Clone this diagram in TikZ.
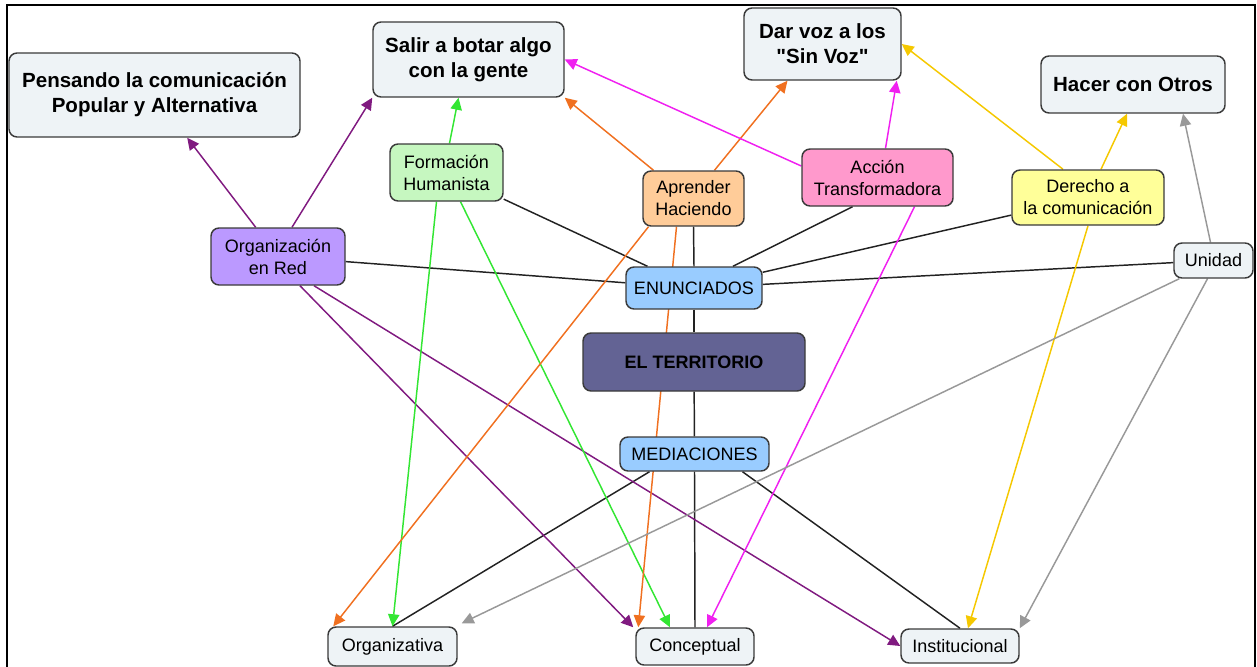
\documentclass[tikz,border=0pt]{standalone}
\usepackage{fontspec}
\setmainfont{Liberation Sans}
\newfontfamily\plainq{Liberation Sans}
\usetikzlibrary{arrows.meta,calc,backgrounds}
\definecolor{boxline}{HTML}{3A3A3A}
\definecolor{lightfill}{HTML}{EEF3F6}
\definecolor{greenfill}{HTML}{C6F7C0}
\definecolor{peachfill}{HTML}{FFCC99}
\definecolor{pinkfill}{HTML}{FF99CC}
\definecolor{yellowfill}{HTML}{FFFF99}
\definecolor{lavfill}{HTML}{BB99FF}
\definecolor{bluefill}{HTML}{99CCFF}
\definecolor{terrfill}{HTML}{636394}
\definecolor{cpurple}{HTML}{801A80}
\definecolor{cgreen}{HTML}{33E633}
\definecolor{corange}{HTML}{F07020}
\definecolor{cmagenta}{HTML}{F020F0}
\definecolor{cyellow}{HTML}{F5C800}
\definecolor{cgray}{HTML}{999999}
\definecolor{cblack}{HTML}{222222}
\tikzset{
  sz/.style 2 args={minimum width=#1*0.75pt, minimum height=#2*0.75pt},
  basebox/.style={draw=boxline, line width=1.1pt, rounded corners=6pt, inner sep=0pt, align=center, text=black},
  normaltext/.style={font=\fontsize{13.5pt}{16.5pt}\selectfont},
  boldtext/.style={font=\fontsize{15.4pt}{18.75pt}\selectfont\bfseries},
  lbox/.style={basebox, normaltext, fill=lightfill},
  bigbox/.style={basebox, boldtext, fill=lightfill},
  gbox/.style={basebox, normaltext, fill=greenfill},
  pbox/.style={basebox, normaltext, fill=peachfill},
  kbox/.style={basebox, normaltext, fill=pinkfill},
  ybox/.style={basebox, normaltext, fill=yellowfill},
  vbox/.style={basebox, normaltext, fill=lavfill},
  bbox/.style={basebox, normaltext, fill=bluefill},
  tbox/.style={basebox, font=\fontsize{13.5pt}{16.5pt}\selectfont\bfseries, fill=terrfill},
  conn/.style={line width=1.1pt},
  bl/.style={conn, draw=cblack},
  arr/.style={conn, -{Triangle[length=9pt,width=8.5pt]}},
  pu/.style={arr, draw=cpurple, fill=cpurple},
  gr/.style={arr, draw=cgreen, fill=cgreen},
  orr/.style={arr, draw=corange, fill=corange},
  mg/.style={arr, draw=cmagenta, fill=cmagenta},
  ye/.style={arr, draw=cyellow, fill=cyellow},
  gy/.style={arr, draw=cgray, fill=cgray},
}
\begin{document}
\begin{tikzpicture}[x=0.75pt,y=-0.75pt]
\useasboundingbox (0,0) rectangle (1257,667);
\draw[line width=1.6pt] (7,667) -- (7,5) -- (1255,5) -- (1255,667);

\node[bigbox, sz={291}{84}] (pens) at (154.5,95) {Pensando la comunicación\\Popular y Alternativa};
\node[bigbox, sz={191}{75}] (salir) at (468.5,59.5) {Salir a botar algo\\con la gente};
\node[bigbox, sz={157}{72}] (dar) at (822.5,44) {Dar voz a los\\{\plainq"}Sin Voz{\plainq"}};
\node[bigbox, sz={184}{57}] (hacer) at (1133,84.5) {Hacer con Otros};
\node[gbox, sz={113}{57}] (form) at (446.5,172.5) {Formación\\Humanista};
\node[pbox, sz={101}{55}] (apr) at (693.5,198.5) {Aprender\\Haciendo};
\node[kbox, sz={151}{57}] (acc) at (877.5,177.5) {Acción\\Transformadora};
\node[ybox, sz={152}{55}] (der) at (1088,197.5) {Derecho a\\la comunicación};
\node[vbox, sz={134}{57}] (org) at (278,256.5) {Organización\\en Red};
\node[bbox, sz={136}{42}] (enun) at (694,288) {ENUNCIADOS};
\node[tbox, sz={222}{58}] (terr) at (694,362) {EL TERRITORIO};
\node[bbox, sz={149}{34}] (med) at (694.5,454) {MEDIACIONES};
\node[lbox, sz={79}{35}] (unid) at (1213.5,260.5) {Unidad};
\node[lbox, sz={129}{39}] (orgz) at (392.5,646.5) {Organizativa};
\node[lbox, sz={118}{37}] (conc) at (695,646.5) {Conceptual};
\node[lbox, sz={118}{34}] (inst) at (960,646) {Institucional};

\begin{scope}[on background layer]
% black links
\draw[bl] (form) -- (enun);
\draw[bl] (apr.south) -- (enun.north);
\draw[bl] ($(acc.south)+(-25,0)$) -- ($(enun.north)+(39,0)$);
\draw[bl] (der) -- (enun);
\draw[bl] (org) -- (enun);
\draw[bl] (unid) -- (enun);
\draw[bl] (enun) -- (terr);
\draw[bl] (terr) -- (med);
\draw[bl] ($(med.south)+(-45,0)$) -- (orgz.north);
\draw[bl] (med.south) -- (conc.north);
\draw[bl] ($(med.south)+(48,0)$) -- (inst.north);
% purple
\draw[pu] (org) -- (pens);
\draw[pu] ($(org.north)+(14,0)$) -- (salir.south west);
\draw[pu] ($(org.south)+(22,0)$) -- ($(conc.north west)+(-2,0)$);
\draw[pu] ($(org.south)+(36,0)$) -- (inst.west);
% green
\draw[gr] ($(form.north)+(3,0)$) -- ($(salir.south)+(-10,0)$);
\draw[gr] ($(form.south)+(-10,0)$) -- (orgz.north);
\draw[gr] ($(form.south)+(14,0)$) -- ($(conc.north)+(-25,0)$);
% orange
\draw[orr] ($(apr.north)+(-40,0)$) -- (salir.south east);
\draw[orr] ($(apr.north)+(21,0)$) -- ($(dar.south)+(-35,0)$);
\draw[orr] ($(apr.south)+(-45,0)$) -- ($(orgz.north west)+(6,0)$);
\draw[orr] ($(apr.south)+(-17,0)$) -- ($(conc.north west)+(3,0)$);
% magenta
\draw[mg] ($(acc.west)+(0,-11.5)$) -- (salir.east);
\draw[mg] ($(acc.north)+(8,0)$) -- ($(dar.south east)+(-5,0)$);
\draw[mg] ($(acc.south)+(37,0)$) -- ($(conc.north)+(12,0)$);
% yellow
\draw[ye] ($(der.north)+(-25,0)$) -- (dar.east);
\draw[ye] ($(der.north)+(13,0)$) -- ($(hacer.south)+(-6,0)$);
\draw[ye] (der.south) -- ($(inst.north)+(8,0)$);
% gray
\draw[gy] ($(unid.north)+(-3,0)$) -- ($(hacer.south)+(50,0)$);
\draw[gy] ($(unid.south west)+(6,0)$) -- ($(orgz.north east)+(4,-3)$);
\draw[gy] ($(unid.south)+(-6,0)$) -- (inst.north east);
\end{scope}
\end{tikzpicture}
\end{document}
